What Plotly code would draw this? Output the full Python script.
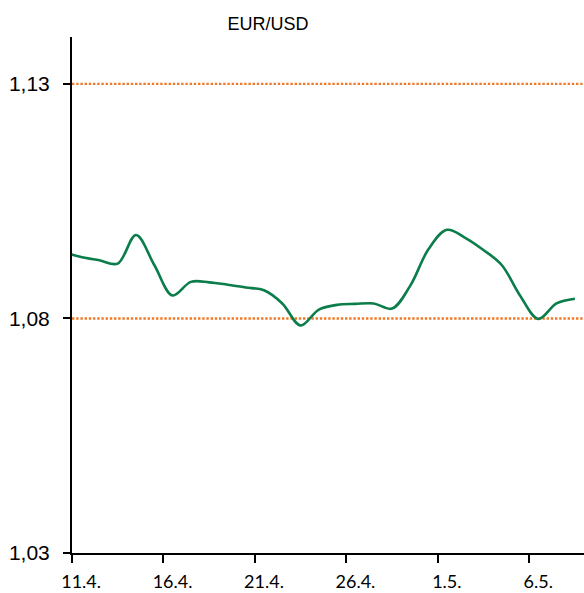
import plotly.graph_objects as go
import pandas as pd

# ---- data ----
dates = pd.date_range("2023-04-10", "2023-05-08", freq="D")[:29]  # 10.4. .. 8.5.
eur_usd = [1.0942, 1.0931, 1.0924, 1.0917, 1.0978, 1.0914, 1.0849, 1.0878,
           1.0877, 1.0872, 1.0866, 1.0860, 1.0832, 1.0785, 1.0819, 1.0829,
           1.0831, 1.0832, 1.0821, 1.0870, 1.0948, 1.0989, 1.0972, 1.0946,
           1.0914, 1.0849, 1.0799, 1.0832, 1.0842]
tick_dates = ["2023-04-11", "2023-04-16", "2023-04-21", "2023-04-26", "2023-05-01", "2023-05-06"]
tick_labels = ["11.4.", "16.4.", "21.4.", "26.4.", "1.5.", "6.5."]
y_ticks = [1.03, 1.08, 1.13]
reference_levels = [1.08, 1.13]
title_text = "EUR/USD"

fig = go.Figure()
fig.add_trace(go.Scatter(
    x=dates[:len(eur_usd)], y=eur_usd, mode="lines",
    line=dict(color="#0A7D4B", width=2.6, shape="spline", smoothing=1.0),
    showlegend=False, hoverinfo="skip"))

for lvl in reference_levels:
    fig.add_shape(type="line", xref="paper", x0=0, x1=1, yref="y", y0=lvl, y1=lvl,
                  line=dict(color="#F07A2A", width=2.4, dash="2.4px,1.8px"), layer="below")

fig.update_layout(
    width=584, height=593,
    margin=dict(l=72, r=0, t=37, b=40),
    paper_bgcolor="white", plot_bgcolor="white",
    separators=",.",
    title=dict(text=title_text, x=268/584, xref="container", xanchor="center",
               y=1 - 24/593, yref="container", yanchor="middle",
               font=dict(family="Liberation Sans", size=18, color="black")),
    xaxis=dict(
        type="date", automargin=False,
        range=["2023-04-10 12:00", "2023-05-08 12:00"],
        tickmode="array", tickvals=tick_dates, ticktext=tick_labels,
        ticks="", showgrid=False, zeroline=False,
        showline=True, linecolor="black", linewidth=2,
        tickfont=dict(family="Lato", size=18, color="black"),
        ticklabelstandoff=11,
        minor=dict(ticks="outside", ticklen=8, tickwidth=2, tickcolor="black",
                   tick0="2023-04-10 12:00", dtick=5 * 86400000, showgrid=False),
    ),
    yaxis=dict(
        range=[1.03, 1.14], automargin=False,
        tickmode="array", tickvals=y_ticks, tickformat=".2f",
        ticks="outside", ticklen=7, tickwidth=2, tickcolor="black",
        showgrid=False, zeroline=False,
        showline=True, linecolor="black", linewidth=2,
        tickfont=dict(family="Liberation Sans", size=21, color="black"),
        ticklabelstandoff=9,
    ),
)

fig.write_html("out.html", config={"displayModeBar": False},
               post_script="document.body.style.margin='0px';document.body.style.overflow='hidden';")
